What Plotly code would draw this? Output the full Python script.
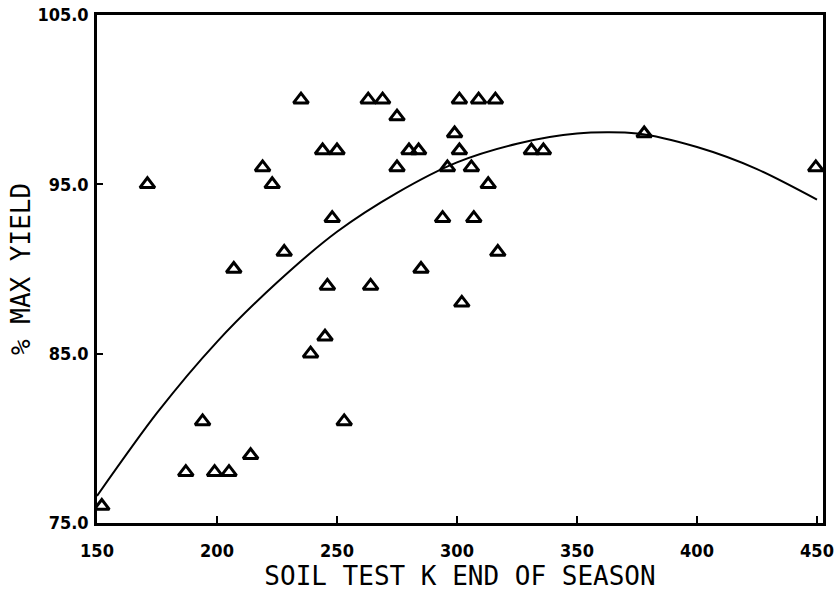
import plotly.graph_objects as go

# Observed points (soil test K, % max yield)
soil_k = [152, 171, 187, 194, 199, 205, 207, 214, 219, 223, 228, 235, 239, 244,
          245, 246, 248, 250, 253, 263, 264, 269, 275, 275, 280, 284, 285, 294,
          296, 299, 301, 301, 302, 306, 307, 309, 313, 316, 317, 331, 336, 378, 449.5]
pct_yield = [76, 95, 78, 81, 78, 78, 90, 79, 96, 95, 91, 100, 85, 97,
             86, 89, 93, 97, 81, 100, 89, 100, 99, 96, 97, 97, 90, 93,
             96, 98, 100, 97, 88, 96, 93, 100, 95, 100, 91, 97, 97, 98, 96]

# Fitted curve
curve_k = [150, 175, 200, 225, 250, 275, 300, 325, 350, 375, 400, 425, 450]
curve_y = [76.6, 81.5, 85.7, 89.2, 92.2, 94.5, 96.3, 97.4, 98.0, 98.0, 97.2, 95.9, 94.1]

x_ticks = [150, 200, 250, 300, 350, 400, 450]
y_ticks = [75, 85, 95, 105]
y_tick_text = ["75.0", "85.0", "95.0", "105.0"]

fig = go.Figure()
fig.add_trace(go.Scatter(
    x=curve_k, y=curve_y, mode="lines",
    line=dict(color="black", width=2, shape="spline", smoothing=0.8),
    hoverinfo="skip", showlegend=False))
fig.add_trace(go.Scatter(
    x=soil_k, y=pct_yield, mode="markers",
    marker=dict(symbol="triangle-up-open", size=13, color="black",
                line=dict(color="black", width=3)),
    showlegend=False))

tick_font = dict(family="Liberation Sans Narrow, DejaVu Sans Condensed, Arial Narrow, sans-serif",
                 size=18, color="black", weight="bold")
title_font = dict(family="DejaVu Sans Mono, Liberation Mono, monospace", size=26, color="black")

fig.update_layout(
    width=838, height=596,
    margin=dict(l=97, r=15, t=15, b=73),
    paper_bgcolor="white", plot_bgcolor="white",
    xaxis=dict(
        range=[150, 452.5], tickvals=x_ticks, ticks="inside", ticklen=7, tickwidth=2,
        tickcolor="black", showline=True, linecolor="black", linewidth=2.5, mirror=True,
        showgrid=False, zeroline=False, tickfont=tick_font, ticklabelstandoff=10,
        automargin=False,
        title=dict(text="SOIL TEST K END OF SEASON", font=title_font, standoff=2),
    ),
    yaxis=dict(
        range=[75, 105], tickvals=y_ticks, ticktext=y_tick_text, ticks="inside",
        ticklen=6, tickwidth=2, tickcolor="black", showline=True, linecolor="black",
        linewidth=2.5, mirror=True, showgrid=False, zeroline=False, tickfont=tick_font,
        ticklabelstandoff=2, automargin=False,
        title=dict(text="% MAX YIELD", font=title_font, standoff=0),
    ),
)

fig.write_html("out.html", config={"displayModeBar": False},
               post_script="document.body.style.margin='0';document.body.style.overflow='hidden';")
